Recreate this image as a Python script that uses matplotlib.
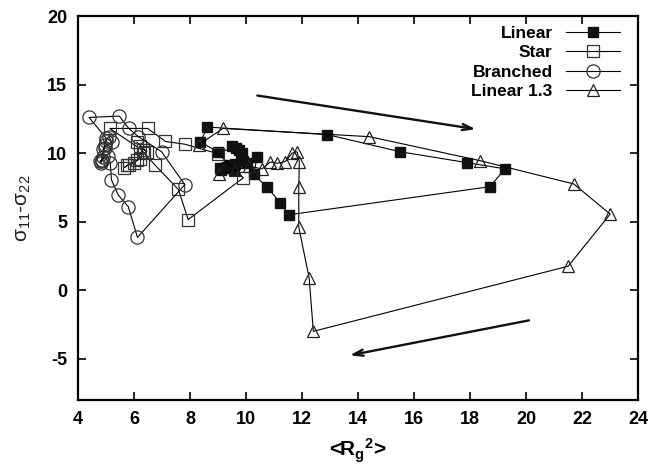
import matplotlib
matplotlib.use("Agg")
import matplotlib.pyplot as plt

plt.rcParams["font.family"] = ["Liberation Sans", "DejaVu Sans"]
plt.rcParams["mathtext.fontset"] = "custom"
plt.rcParams["mathtext.rm"] = "Liberation Sans"
plt.rcParams["mathtext.it"] = "Liberation Sans"
plt.rcParams["mathtext.bf"] = "Liberation Sans:bold"
plt.rcParams["mathtext.default"] = "regular"
plt.rcParams["axes.unicode_minus"] = False

# Linear (filled squares)
linear_x = [9.9, 9.6, 9.2, 9.05, 9.3, 9.55, 9.85, 9.65, 9.0, 8.36, 8.62, 12.9, 15.5, 17.9, 19.25, 18.7,
            11.52, 11.22, 10.75, 10.27, 10.39, 10.03, 9.75, 9.5, 9.8, 9.4, 9.1]
linear_y = [9.4, 9.2, 8.9, 8.9, 9.0, 8.8, 9.99, 10.36, 10.1, 10.8, 11.9, 11.35, 10.1, 9.3, 8.85, 7.55,
            5.5, 6.39, 7.5, 8.45, 9.7, 9.3, 10.2, 10.5, 9.6, 9.1, 8.8]

# Star (open squares)
star_x = [6.2, 6.0, 5.75, 5.65, 5.8, 6.1, 6.3, 5.13, 6.48, 7.12, 7.81, 9.0, 9.9, 7.93, 7.58, 6.76,
          6.35, 6.2, 6.45, 6.1]
star_y = [9.6, 9.3, 9.1, 8.95, 9.15, 9.5, 10.2, 11.8, 11.8, 10.85, 10.65, 9.95, 8.2, 5.15, 7.35, 9.1,
          10.0, 10.5, 10.1, 10.8]

# Branched (open circles)
branched_x = [4.85, 4.9, 4.95, 5.0, 4.39, 5.47, 5.81, 6.15, 6.98, 7.81, 6.12, 5.79, 5.43, 5.19, 5.15,
              5.05, 4.85, 4.78, 4.82, 4.9, 5.0, 5.1, 5.2, 4.95]
branched_y = [9.4, 9.7, 10.6, 11.1, 12.6, 12.7, 11.8, 11.2, 10.1, 7.7, 3.85, 6.1, 6.95, 8.05, 9.3,
              9.8, 9.5, 9.4, 9.3, 10.3, 10.9, 11.2, 10.8, 10.4]

# Linear 1.3 (open triangles)
lin13_x = [8.3, 9.17, 14.4, 18.35, 21.7, 23.0, 21.5, 12.4, 12.25, 11.88, 11.88, 11.9, 11.82, 11.64,
           11.4, 11.1, 10.86, 10.57, 10.1, 9.6, 9.04]
lin13_y = [10.6, 11.8, 11.2, 9.45, 7.75, 5.55, 1.75, -3.0, 0.9, 4.6, 7.5, 9.38, 10.1, 9.99,
           9.38, 9.26, 9.35, 8.85, 9.05, 8.75, 8.45]

# arrows showing the direction of the cycle (start, end)
arrow_top = [(10.4, 14.2), (18.2, 11.75)]
arrow_bottom = [(20.1, -2.2), (13.7, -4.75)]

fig = plt.figure(figsize=(6.62, 4.71), dpi=100)
ax = fig.add_axes([0.118, 0.151, 0.846, 0.815])

line_kw = dict(color="black", linewidth=0.8)
ax.plot(linear_x, linear_y, marker="s", markersize=7.5, markerfacecolor="#111111",
        markeredgecolor="#111111", label="Linear", **line_kw)
ax.plot(star_x, star_y, marker="s", markersize=9, markerfacecolor="none",
        markeredgecolor="#333333", markeredgewidth=0.9, label="Star", **line_kw)
ax.plot(branched_x, branched_y, marker="o", markersize=9.5, markerfacecolor="none",
        markeredgecolor="#333333", markeredgewidth=0.9, label="Branched", **line_kw)
ax.plot(lin13_x, lin13_y, marker="^", markersize=9, markerfacecolor="none",
        markeredgecolor="#222222", markeredgewidth=0.9, label="Linear 1.3", **line_kw)

for start, end in (arrow_top, arrow_bottom):
    ax.annotate("", xy=end, xytext=start,
                arrowprops=dict(arrowstyle="->,head_length=0.7,head_width=0.22",
                                lw=1.7, color="#111111", shrinkA=0, shrinkB=0))

ax.set_xlim(4, 24)
ax.set_ylim(-8, 20)
ax.set_xticks(range(4, 25, 2))
ax.set_yticks(range(-5, 21, 5))
ax.tick_params(direction="in", length=6, width=1.2, top=True, right=True,
               labelsize=13, pad=8)
for lab in ax.get_xticklabels() + ax.get_yticklabels():
    lab.set_fontweight("bold")
for sp in ax.spines.values():
    sp.set_linewidth(1.6)

ax.set_xlabel(r"<R$_\mathbf{g}$$^\mathbf{2}$>", fontsize=15, fontweight="bold", labelpad=6)
ax.set_ylabel(r"$\sigma_{11}$-$\sigma_{22}$", fontsize=15, color="#222222", labelpad=10)

ax.legend(loc="upper right", bbox_to_anchor=(0.968, 0.975), markerfirst=False, frameon=False,
          numpoints=1, handlelength=3.1, handletextpad=0.8, labelspacing=0.25, borderpad=0,
          borderaxespad=0, prop={"weight": "bold", "size": 12.5})

fig.savefig("out.png", dpi=100)
